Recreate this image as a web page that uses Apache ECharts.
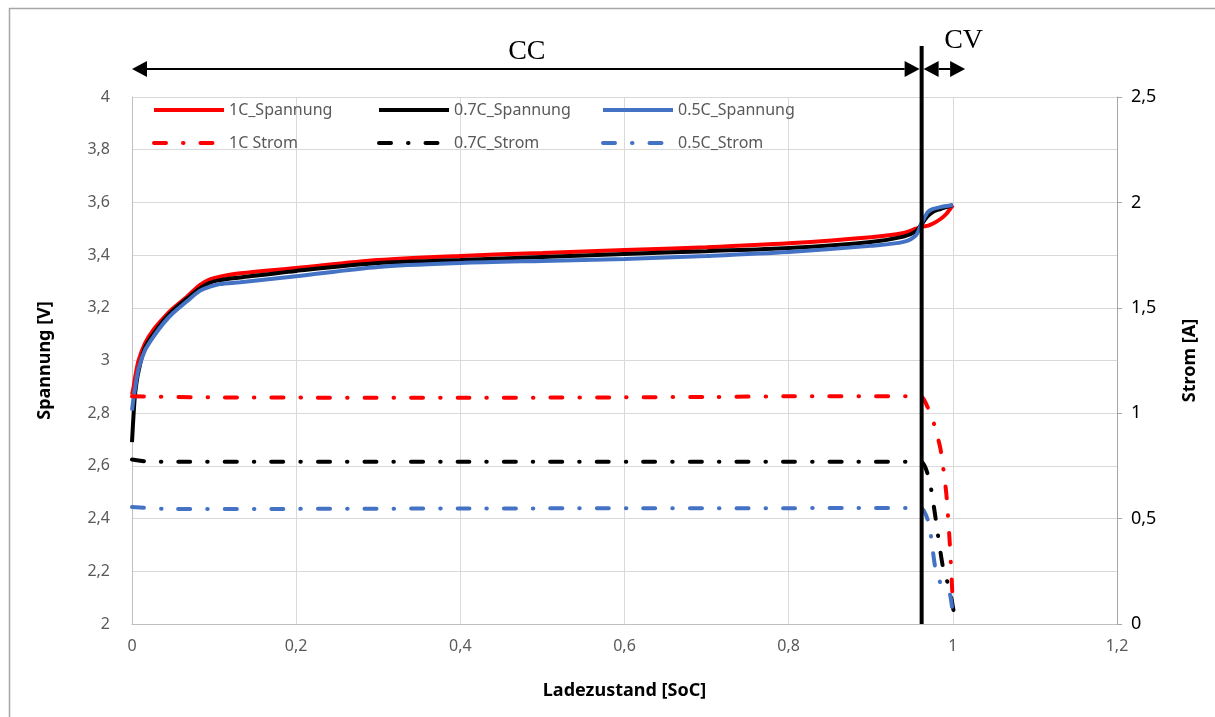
<!DOCTYPE html>
<html>
<head>
<meta charset="utf-8">
<script src="https://cdn.jsdelivr.net/npm/echarts@6/dist/echarts.min.js"></script>
<style>
  html, body { margin: 0; background: #fff; }
  #chart { width: 1215px; height: 717px; }
</style>
</head>
<body>
<div id="chart"></div>
<script>
// Ladezustand (SoC) fuer die Spannungskurven
var socV = [0, 0.002, 0.004, 0.008, 0.016, 0.026, 0.038, 0.05, 0.067, 0.083, 0.095, 0.107, 0.132,
  0.2, 0.3, 0.4, 0.5, 0.6, 0.7, 0.8, 0.9, 0.94, 0.955, 0.961, 0.965, 0.97, 0.976, 0.985, 0.992, 0.997, 1.0];
var v1C = [2.87, 2.9, 2.94, 3.0, 3.066, 3.116, 3.16, 3.198, 3.242, 3.287, 3.308, 3.318, 3.331,
  3.351, 3.381, 3.397, 3.408, 3.419, 3.43, 3.445, 3.468, 3.484, 3.5, 3.507, 3.509, 3.512, 3.52, 3.537, 3.556, 3.577, 3.59];
var v07C = [2.69, 2.8, 2.88, 2.96, 3.05, 3.1, 3.15, 3.19, 3.235, 3.275, 3.295, 3.305, 3.315,
  3.34, 3.37, 3.381, 3.393, 3.404, 3.415, 3.427, 3.45, 3.47, 3.49, 3.513, 3.53, 3.55, 3.565, 3.575, 3.582, 3.587, 3.59];
var v05C = [2.81, 2.86, 2.9, 2.97, 3.04, 3.09, 3.14, 3.18, 3.225, 3.265, 3.28, 3.29, 3.297,
  3.32, 3.355, 3.37, 3.378, 3.385, 3.397, 3.412, 3.435, 3.45, 3.475, 3.515, 3.54, 3.565, 3.575, 3.582, 3.586, 3.588, 3.59];

// Stromkurven (CC-Phase + CV-Abfall)
var soc1C = [0, 0.1, 0.4, 0.7, 0.8, 0.961, 0.968, 0.977, 0.985, 0.992, 0.996, 0.999, 1.0];
var i1C = [1.08, 1.075, 1.073, 1.077, 1.08, 1.08, 1.04, 0.95, 0.83, 0.62, 0.40, 0.18, 0.08];
var soc07C = [0, 0.02, 0.4, 0.961, 0.971, 0.976, 0.98, 0.984, 0.988, 0.994, 0.998, 1.001];
var i07C = [0.78, 0.77, 0.77, 0.77, 0.69, 0.58, 0.474, 0.365, 0.27, 0.19, 0.128, 0.06];
var soc05C = [0, 0.05, 0.4, 0.961, 0.971, 0.975, 0.979, 0.987, 0.996, 1.0, 1.001];
var i05C = [0.555, 0.545, 0.548, 0.55, 0.474, 0.365, 0.26, 0.176, 0.147, 0.05, 0.03];

var cvStart = 0.962;   // Grenze CC / CV
var cvEnd = 1.015;

var chart = echarts.init(document.getElementById('chart'));

function fmt(v) {
    return (Math.round(v * 10) / 10).toString().replace('.', ',');
}
function pairs(xs, ys) {
    return xs.map(function (x, i) { return [x, ys[i]]; });
}
function volt(name, color, vals) {
    return {
        name: name, type: 'line', yAxisIndex: 0, symbol: 'none', smooth: 0.3,
        data: pairs(socV, vals),
        lineStyle: { color: color, width: 4 },
        itemStyle: { color: color }
    };
}
function strom(name, color, xs, vals) {
    return {
        name: name, type: 'line', yAxisIndex: 1, symbol: 'none', smooth: 0.2,
        data: pairs(xs, vals),
        lineStyle: { color: color, width: 4, type: [12, 17, 0.5, 17], cap: 'round' },
        itemStyle: { color: color }
    };
}
function leg(name, left, top) {
    return {
        data: [name], left: left, top: top, itemWidth: 70, itemHeight: 14, itemGap: 0,
        itemStyle: { opacity: 0 },
        lineStyle: { width: 4 },
        textStyle: { color: '#595959', fontSize: 16, fontFamily: 'Noto Sans' }
    };
}

var RED = '#ff0000', BLACK = '#000000', BLUE = '#4472c4';
var gridCol = '#d9d9d9', axisCol = '#bfbfbf';

chart.setOption({
    animation: false,
    backgroundColor: '#fff',
    grid: { left: 132, right: 98, top: 97, bottom: 93 },
    legend: [
        leg('1C_Spannung', 147, 97), leg('0.7C_Spannung', 372, 97), leg('0.5C_Spannung', 596, 97),
        leg('1C Strom', 147, 130), leg('0.7C_Strom', 372, 130), leg('0.5C_Strom', 596, 130)
    ],
    xAxis: {
        type: 'value', min: 0, max: 1.2, interval: 0.2,
        name: 'Ladezustand [SoC]', nameLocation: 'middle', nameGap: 58,
        nameTextStyle: { fontSize: 18, fontWeight: 'bold', color: '#000', fontFamily: 'Noto Sans' },
        axisLine: { lineStyle: { color: axisCol } },
        axisTick: { show: false },
        axisLabel: { formatter: fmt, color: '#595959', fontSize: 16, margin: 14, fontFamily: 'Noto Sans' },
        splitLine: { show: true, lineStyle: { color: gridCol } }
    },
    yAxis: [{
        type: 'value', min: 2, max: 4, interval: 0.2,
        name: 'Spannung [V]', nameLocation: 'middle', nameGap: 78, nameRotate: 90,
        nameTextStyle: { fontSize: 18, fontWeight: 'bold', color: '#000', fontFamily: 'Noto Sans' },
        axisLine: { show: true, lineStyle: { color: axisCol } },
        axisTick: { show: false },
        axisLabel: { formatter: fmt, color: '#595959', fontSize: 16, margin: 22, fontFamily: 'Noto Sans' },
        splitLine: { show: true, lineStyle: { color: gridCol } }
    }, {
        type: 'value', min: 0, max: 2.5, interval: 0.5, position: 'right',
        name: 'Strom [A]', nameLocation: 'middle', nameGap: 64, nameRotate: 90,
        nameTextStyle: { fontSize: 18, fontWeight: 'bold', color: '#000', fontFamily: 'Noto Sans' },
        axisLine: { show: true, lineStyle: { color: '#a6a6a6' } },
        axisTick: { show: true, length: 5, lineStyle: { color: '#a6a6a6' } },
        axisLabel: { formatter: fmt, color: '#000', fontSize: 18, margin: 14, fontFamily: 'Noto Sans' },
        splitLine: { show: false }
    }],
    series: [
        volt('1C_Spannung', RED, v1C),
        volt('0.7C_Spannung', BLACK, v07C),
        volt('0.5C_Spannung', BLUE, v05C),
        strom('1C Strom', RED, soc1C, i1C),
        strom('0.7C_Strom', BLACK, soc07C, i07C),
        strom('0.5C_Strom', BLUE, soc05C, i05C)
    ]
});

// CC/CV-Markierung oberhalb der Zeichenflaeche
var x0 = chart.convertToPixel({ xAxisIndex: 0 }, 0);
var xc = chart.convertToPixel({ xAxisIndex: 0 }, cvStart);
var xe = chart.convertToPixel({ xAxisIndex: 0 }, cvEnd);
var yb = chart.convertToPixel({ yAxisIndex: 0 }, 2);
var ya = 69, hl = 15, hw = 8;

function head(tip, dir) {
    return { type: 'polygon', z: 100, shape: { points: [[tip, ya], [tip + dir * hl, ya - hw], [tip + dir * hl, ya + hw]] },
        style: { fill: '#000' } };
}

chart.setOption({
    graphic: [
        { type: 'rect', z: 0, shape: { x: 9.5, y: 8.5, width: 1300, height: 800 },
          style: { fill: null, stroke: '#a6a6a6', lineWidth: 1.5 } },
        { type: 'line', z: 100, shape: { x1: xc, y1: 46, x2: xc, y2: yb }, style: { stroke: '#000', lineWidth: 4 } },
        { type: 'line', z: 100, shape: { x1: x0 + hl, y1: ya, x2: xc - 2 - hl, y2: ya }, style: { stroke: '#000', lineWidth: 2 } },
        head(x0, 1), head(xc - 2, -1),
        { type: 'line', z: 100, shape: { x1: xc + 2 + hl, y1: ya, x2: xe - hl, y2: ya }, style: { stroke: '#000', lineWidth: 2 } },
        head(xc + 2, 1), head(xe, -1),
        { type: 'text', z: 100, x: (x0 + xc) / 2, y: 52,
          style: { text: 'CC', font: '28px "Liberation Serif"', fill: '#000', align: 'center', verticalAlign: 'middle' } },
        { type: 'text', z: 100, x: xc + 42, y: 41,
          style: { text: 'CV', font: '28px "Liberation Serif"', fill: '#000', align: 'center', verticalAlign: 'middle' } }
    ]
});
</script>
</body>
</html>
